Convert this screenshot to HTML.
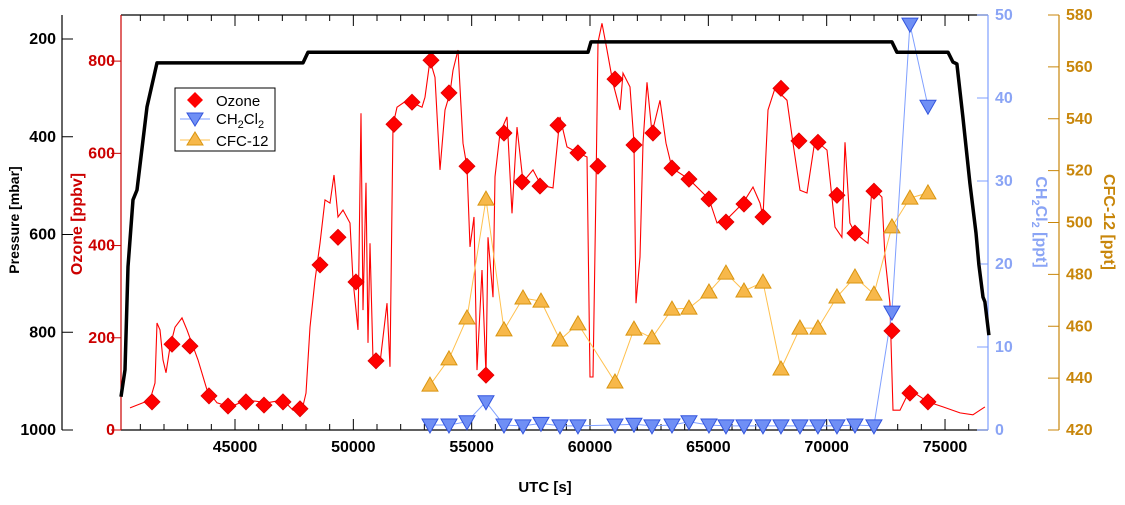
<!DOCTYPE html>
<html><head><meta charset="utf-8"><style>
html,body{margin:0;padding:0;background:#fff;}
svg{display:block;font-family:"Liberation Sans",Arial,sans-serif;}
</style></head><body>
<svg id="chart" width="1125" height="505" viewBox="0 0 1125 505" xmlns="http://www.w3.org/2000/svg"></svg>
<script>
// ---- data ----
const pressureUtc = [40183,40352,40479,40690,40859,41282,41704,47873,48084,59914,60040,72757,72968,75124,75335,75502,75757,76053,76307,76433,76603,76687,76856];
const pressureMbar = [932,877,666,529,509,339,249,249,227,227,206,206,227,227,247,251,360,495,597,662,728,738,806];

const ozoneTraceUtc = [40563,41408,41620,41704,41831,41958,42084,42253,42465,42760,42972,43436,43817,44239,44788,45507,46352,47028,47450,47830,47999,48168,48380,48591,48802,49013,49182,49351,49563,49858,49985,50196,50323,50408,50534,50619,50703,50830,51126,51422,51548,51675,51844,52267,52900,53027,53238,53450,53661,53872,54083,54210,54421,54633,54802,54928,55097,55224,55435,55604,55689,55900,55985,56196,56492,56703,56914,57168,57590,57928,58435,58731,59027,59491,59872,59998,60125,60252,60336,60505,60717,60970,61266,61393,61688,61857,61942,62111,62238,62407,62618,62956,63209,63463,64181,65026,65364,65744,66463,66885,67181,67308,67519,67815,68322,68575,68871,69167,69505,70012,70350,70645,70772,70983,71195,71744,71913,72335,72462,72673,72800,73096,73518,74279,74913,75631,76180,76687];
const ozoneTracePpbv = [48,65,102,232,217,152,124,180,223,243,217,152,87,59,50,65,59,65,43,43,80,223,325,405,499,492,553,462,477,449,325,217,687,260,536,189,405,152,145,275,137,661,700,715,700,722,802,765,564,694,731,780,824,622,570,397,462,130,347,119,418,288,549,644,679,470,657,538,564,531,525,679,614,601,592,115,115,527,841,882,824,752,694,774,744,622,275,375,622,754,644,715,622,568,544,501,449,455,492,527,492,462,694,741,715,622,520,514,629,607,440,418,624,449,427,405,527,505,375,275,43,43,87,61,50,37,33,50];

const ozoneMarkUtc = [41493,42338,43098,43901,44704,45464,46225,47028,47746,48591,49351,50112,50957,51717,52478,53281,54041,54802,55604,56365,57125,57886,58646,59491,60336,61055,61857,62660,63463,64181,65026,65744,66505,67308,68068,68828,69631,70434,71195,71997,72757,73518,74279];
const ozoneMarkPpbv = [61,186,182,74,52,61,54,61,46,358,418,321,150,663,711,802,731,572,119,644,538,529,661,601,572,761,618,644,568,544,501,451,490,462,741,627,624,509,427,518,215,80,61];

const sampleUtc = [53238,54041,54802,55604,56365,57168,57928,58731,59491,61055,61857,62618,63463,64181,65026,65744,66505,67308,68068,68871,69631,70434,71195,71997,72757,73518,74279];
const ch2cl2Ppt = [0.6,0.6,1.0,3.4,0.6,0.5,0.8,0.5,0.5,0.6,0.7,0.5,0.6,1.0,0.6,0.5,0.5,0.5,0.5,0.5,0.5,0.5,0.6,0.5,14.2,48.9,39.0];
const cfc12Ppt = [437.3,447.4,463.2,509,458.6,470.9,469.7,454.7,460.9,438.5,458.9,455.5,466.6,467,473.2,480.5,473.6,477,443.5,459.3,459.3,471.3,479,472.4,498.3,509.4,511.4];

const xTicks = [45000,50000,55000,60000,65000,70000,75000];
const pressureTicks = [200,400,600,800,1000];
const ozoneTicks = [0,200,400,600,800];
const ch2Ticks = [0,10,20,30,40,50];
const cfcTicks = [420,440,460,480,500,520,540,560,580];

// ---- scales ----
const L=121,R=988,T=15,B=430;
const xS=v=>L+(v-40183)/(76816-40183)*(R-L);
const pS=v=>430-(1000-v)/800*391;
const oS=v=>B-v/900*(B-T);
const cS=v=>B-v/50*(B-T);
const fS=v=>B-(v-420)/160*(B-T);

const svg=document.getElementById('chart');
const NS='http://www.w3.org/2000/svg';
function mk(tag,attrs,parent){const e=document.createElementNS(NS,tag);for(const k in attrs)e.setAttribute(k,attrs[k]);(parent||svg).appendChild(e);return e;}
function txt(s,attrs,parent){const e=mk('text',attrs,parent);e.textContent=s;return e;}

// x ticks
const gx=mk('g',{});


for(let v=41000;v<=76000;v+=1000){
  const x=xS(v),len=(v%5000===0)?11:6;
  mk('line',{x1:x,x2:x,y1:B,y2:B-len,stroke:'#000','stroke-width':1},gx);
  mk('line',{x1:x,x2:x,y1:T,y2:T+len,stroke:'#000','stroke-width':1},gx);
}
xTicks.forEach(v=>{const t=txt(String(v),{x:xS(v),y:452,'text-anchor':'middle','font-size':16,'font-weight':'bold',fill:'#000'},gx);

});
mk('line',{x1:L,x2:R,y1:B,y2:B,stroke:'#000','stroke-width':1.2},gx);
mk('line',{x1:L,x2:R,y1:T,y2:T,stroke:'#000','stroke-width':1.2},gx);
const xt=txt('UTC [s]',{x:545,y:492,'text-anchor':'middle','font-size':15,'font-weight':'bold',fill:'#000'});



// pressure axis
const gp=mk('g',{});


mk('line',{x1:62,x2:62,y1:T,y2:B,stroke:'#000','stroke-width':1.2},gp);
pressureTicks.forEach(v=>{const y=pS(v);mk('line',{x1:62,x2:73,y1:y,y2:y,stroke:'#000'},gp);
 const t=txt(String(v),{x:56,y:y+5,'text-anchor':'end','font-size':16,'font-weight':'bold',fill:'#000'},gp);
 
 });
const pt=txt('Pressure [mbar]',{x:0,y:0,transform:'translate(19,220) rotate(-90)','text-anchor':'middle','font-size':14,'font-weight':'bold',fill:'#000'});



// ozone axis
const go=mk('g',{});


mk('line',{x1:L,x2:L,y1:T,y2:B,stroke:'#cc0000','stroke-width':1.2},go);
ozoneTicks.forEach(v=>{const y=oS(v);mk('line',{x1:L-10,x2:L,y1:y,y2:y,stroke:'#cc0000'},go);
 const t=txt(String(v),{x:115,y:y+5,'text-anchor':'end','font-size':16,'font-weight':'bold',fill:'#cc0000'},go);
 
 });
const ot=txt('Ozone [ppbv]',{x:0,y:0,transform:'translate(82,224) rotate(-90)','text-anchor':'middle','font-size':16,'font-weight':'bold',fill:'#cc0000'});



// CH2Cl2 axis
const gc=mk('g',{});


mk('line',{x1:R,x2:R,y1:T,y2:B,stroke:'#7f9fff','stroke-width':1.2},gc);
ch2Ticks.forEach(v=>{const y=cS(v);mk('line',{x1:R-11,x2:R,y1:y,y2:y,stroke:'#7f9fff'},gc);
 const t=txt(String(v),{x:995,y:y+5,'font-size':16,'font-weight':'bold',fill:'#8aa4f5'},gc);
 
 });
const ct=txt('',{x:0,y:0,transform:'translate(1036,222) rotate(90)','text-anchor':'middle','font-size':16,'font-weight':'bold',fill:'#8aa4f5'});
ct.innerHTML='CH<tspan font-size="11" dy="4">2</tspan><tspan dy="-4">Cl</tspan><tspan font-size="11" dy="4">2</tspan><tspan dy="-4"> [ppt]</tspan>';



// CFC axis
const gf=mk('g',{});


mk('line',{x1:1059,x2:1059,y1:T,y2:B,stroke:'#c8860a','stroke-width':1.2},gf);
cfcTicks.forEach(v=>{const y=fS(v);mk('line',{x1:1048,x2:1059,y1:y,y2:y,stroke:'#c8860a'},gf);
 const t=txt(String(v),{x:1066,y:y+5,'font-size':16,'font-weight':'bold',fill:'#c8860a'},gf);
 
 });
const ft=txt('CFC-12 [ppt]',{x:0,y:0,transform:'translate(1104,222) rotate(90)','text-anchor':'middle','font-size':16,'font-weight':'bold',fill:'#c8860a'});



function poly(xs,ys,sx,sy,attrs,name){const p=mk('polyline',Object.assign({fill:'none',points:xs.map((v,i)=>sx(v).toFixed(1)+','+sy(ys[i]).toFixed(1)).join(' ')},attrs));
 
 return p;}

poly(ozoneTraceUtc,ozoneTracePpbv,xS,oS,{stroke:'#ff0000','stroke-width':1.1},'ozone-trace');
poly(sampleUtc,cfc12Ppt,xS,fS,{stroke:'#ffc04d','stroke-width':1},'cfc12-line');
const gfm=mk('g',{});


sampleUtc.forEach((u,i)=>{const x=xS(u),y=fS(cfc12Ppt[i]);
 const m=mk('polygon',{points:`${x},${y-8} ${x+8},${y+6} ${x-8},${y+6}`,fill:'#f7b84a',stroke:'#d99510','stroke-width':1},gfm);
 
 });
poly(sampleUtc,ch2cl2Ppt,xS,cS,{stroke:'#7f9fff','stroke-width':1},'ch2cl2-line');
const gcm=mk('g',{});


sampleUtc.forEach((u,i)=>{const x=xS(u),y=cS(ch2cl2Ppt[i]);
 const m=mk('polygon',{points:`${x-8},${y-6} ${x+8},${y-6} ${x},${y+8}`,fill:'#6f8ff5',stroke:'#3355dd','stroke-width':1},gcm);
 
 });
const gom=mk('g',{});


ozoneMarkUtc.forEach((u,i)=>{const x=xS(u),y=oS(ozoneMarkPpbv[i]);
 const m=mk('polygon',{points:`${x},${y-8} ${x+8},${y} ${x},${y+8} ${x-8},${y}`,fill:'#ff0000',stroke:'#dd0000','stroke-width':0.8},gom);
 
 });
poly(pressureUtc,pressureMbar,xS,pS,{stroke:'#000','stroke-width':3.5,'stroke-linejoin':'round'},'pressure-line');

// legend
const lg=mk('g',{});


mk('rect',{x:175,y:88,width:100,height:63,fill:'#fff',stroke:'#000','stroke-width':1},lg);
mk('polygon',{points:'195,92 203,100 195,108 187,100',fill:'#ff0000'},lg);
const l1=txt('Ozone',{x:216,y:106,'font-size':15,fill:'#000'},lg);


mk('line',{x1:180,x2:210,y1:119,y2:119,stroke:'#7f9fff'},lg);
mk('polygon',{points:'187,113 203,113 195,126',fill:'#6f8ff5',stroke:'#3355dd'},lg);
const l2=txt('',{x:216,y:124,'font-size':15,fill:'#000'},lg);
l2.innerHTML='CH<tspan font-size="11" dy="4">2</tspan><tspan dy="-4">Cl</tspan><tspan font-size="11" dy="4">2</tspan>';


mk('line',{x1:180,x2:210,y1:140,y2:140,stroke:'#ffc04d'},lg);
mk('polygon',{points:'195,132 203,145 187,145',fill:'#f7b84a',stroke:'#d99510'},lg);
const l3=txt('CFC-12',{x:216,y:146,'font-size':15,fill:'#000'},lg);


</script>
</body></html>
